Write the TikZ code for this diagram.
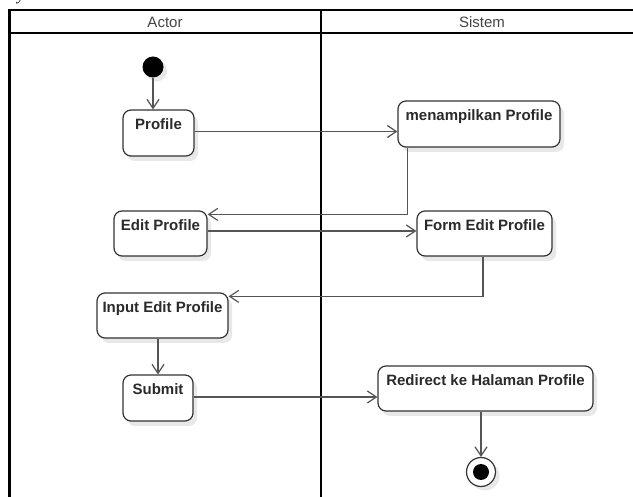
\documentclass[tikz,border=0pt]{standalone}
\usepackage{fontspec}
\setmainfont{Liberation Sans}
\newfontfamily\serifit{Liberation Serif}
\usetikzlibrary{arrows.meta,shadows,calc}
\definecolor{boxline}{HTML}{333333}
\definecolor{conline}{HTML}{555555}
\definecolor{txt}{HTML}{2A2A2A}
\definecolor{hdr}{HTML}{444444}
\tikzset{
  actbox/.style={draw=boxline, line width=1.2pt, rounded corners=8pt, fill=white,
    inner sep=0pt, drop shadow={shadow xshift=4pt, shadow yshift=-5pt, fill=black!9, opacity=1}},
  lbl/.style={anchor=base, font=\fontsize{15}{18}\selectfont\bfseries, text=txt, inner sep=0pt},
  hdrtxt/.style={anchor=base, font=\fontsize{15}{18}\selectfont, text=hdr, inner sep=0pt},
  conn/.style={draw=conline, line width=1.4pt, -{Straight Barb[length=9pt,width=12pt,line width=1.2pt]}},
  lane/.style={draw=black, line width=2.8pt},
  hline/.style={draw=black, line width=2pt},
}
\begin{document}
\begin{tikzpicture}[x=1pt,y=-1pt]
\useasboundingbox (0,0) rectangle (633,497);
\fill[white] (0,0) rectangle (633,497);
% fragment of caption letter
\node[anchor=base, inner sep=0pt, font=\serifit\itshape\fontsize{16}{18}\selectfont] (capy) at (21,0.5) {y};
% swimlane frame
\draw[hline] (8.2,10) -- (645,10);
\draw[hline] (8.2,33) -- (645,33);
\draw[lane] (9.5,9) -- (9.5,500);
\draw[lane] (321,9) -- (321,500);
\node[hdrtxt] (hactor) at (165,27.5) {Actor};
\node[hdrtxt] (hsistem) at (482,27.5) {Sistem};
% initial node
\fill[black!9] (156.5,71) circle (10.5);
\node[circle, fill=black, inner sep=0pt, minimum size=21pt] (init) at (153,67) {};
% activity boxes
\node[actbox, minimum width=71pt, minimum height=46pt] (profile) at (158.5,133) {};
\node[lbl] (profileL) at ([yshift=-20pt]profile.north) {Profile};
\node[actbox, minimum width=162pt, minimum height=46pt] (menamp) at (479,124) {};
\node[lbl] (menampL) at ([yshift=-20pt]menamp.north) {menampilkan Profile};
\node[actbox, minimum width=93pt, minimum height=45pt] (editp) at (160.5,233.5) {};
\node[lbl] (editpL) at ([yshift=-20pt]editp.north) {Edit Profile};
\node[actbox, minimum width=135pt, minimum height=45pt] (formedit) at (484.5,233.5) {};
\node[lbl] (formeditL) at ([yshift=-20pt]formedit.north) {Form Edit Profile};
\node[actbox, minimum width=131pt, minimum height=45pt] (input) at (162.5,315.5) {};
\node[lbl] (inputL) at ([yshift=-20pt]input.north) {Input Edit Profile};
\node[actbox, minimum width=70pt, minimum height=46pt] (submit) at (158,398) {};
\node[lbl] (submitL) at ([yshift=-20pt]submit.north) {Submit};
\node[actbox, minimum width=215pt, minimum height=45pt] (redirect) at (485.5,388.5) {};
\node[lbl] (redirectL) at ([yshift=-20pt]redirect.north) {Redirect ke Halaman Profile};
% final node
\fill[black!9] (485,476) circle (14.5);
\node[circle, draw=boxline, line width=1.2pt, fill=white, inner sep=0pt, minimum size=29pt] (final) at (481,472) {};
\node[circle, fill=black, inner sep=0pt, minimum size=16pt] (finalin) at (final.center) {};
% connectors
\draw[conn] (init) -- (init |- profile.north);
\draw[conn] ([yshift=1.5pt]profile.east) -- ([yshift=1.5pt]profile.east -| menamp.west);
\coordinate (c1) at ([xshift=10pt]menamp.south west);
\coordinate (e1) at ([yshift=-4pt]editp.north east);
\draw[conn] (c1) |- (e1);
\draw[conn] ([yshift=2.5pt]editp.east) -- ([yshift=2.5pt]editp.east -| formedit.west);
\coordinate (e2) at ([yshift=-4pt]input.north east);
\draw[conn] ([xshift=-1.5pt]formedit.south) |- (e2);
\draw[conn] (submit.north |- input.south) -- (submit.north);
\draw[conn] ([yshift=1pt]submit.east) -- ([yshift=1pt]submit.east -| redirect.west);
\draw[conn] (final.north |- redirect.south) -- (final.north);
\end{tikzpicture}
\end{document}
